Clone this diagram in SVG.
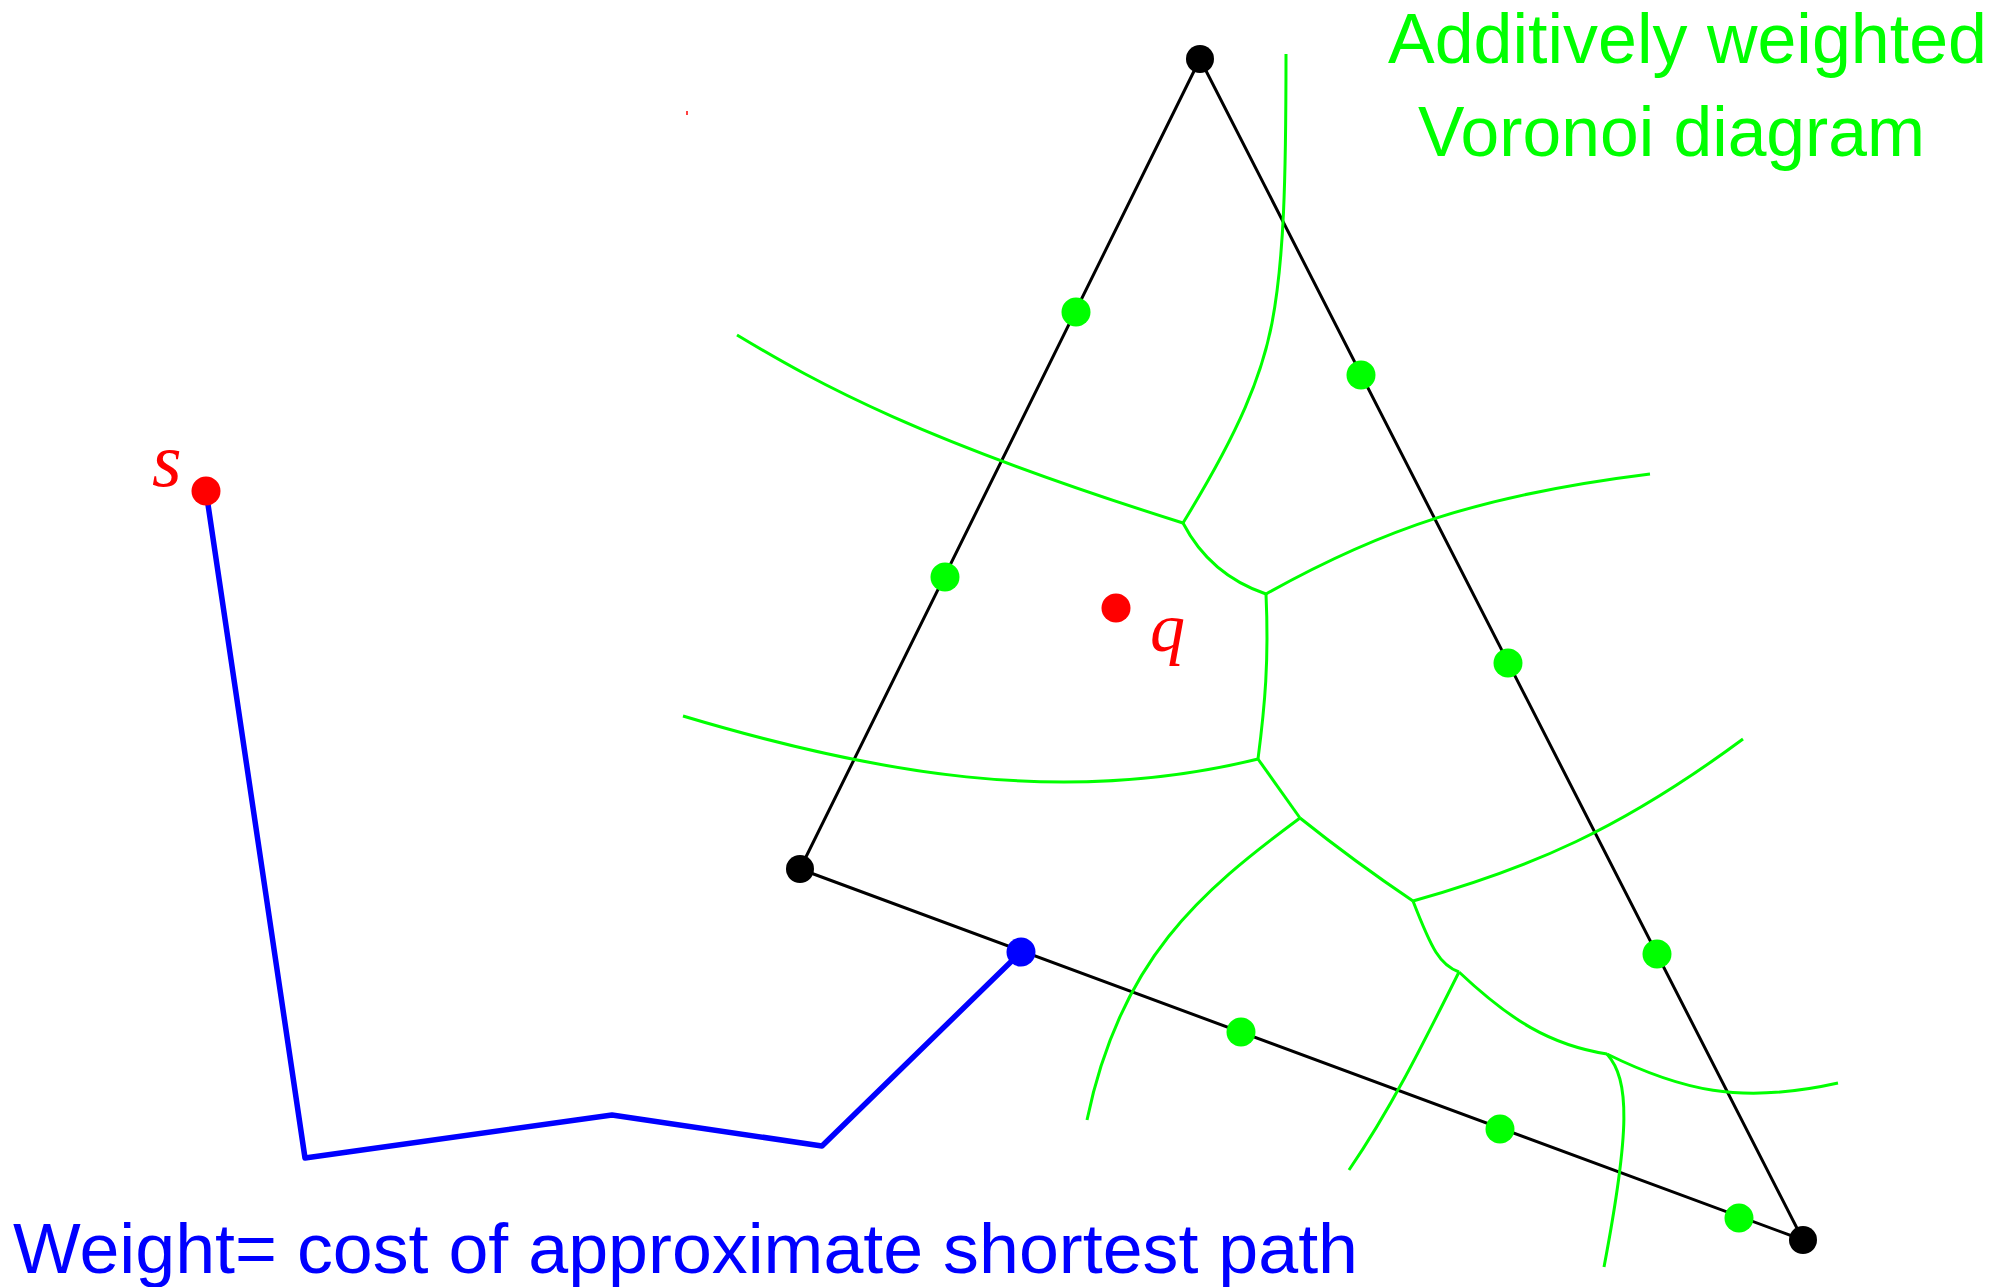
<svg xmlns="http://www.w3.org/2000/svg" width="2015" height="1287" viewBox="0 0 2015 1287">
<style>
.edge{fill:none;stroke:#000;stroke-width:3;stroke-linecap:round}
.vor{fill:none;stroke:#00ff00;stroke-width:3}
.path{fill:none;stroke:#0000ff;stroke-width:5.5;stroke-linejoin:round}
.sans{font-family:"Liberation Sans",Arial,sans-serif;font-size:71px}
.ital{font-family:"Liberation Serif","Times New Roman",serif;font-style:italic;font-size:70px;fill:#ff0000}
</style>
<rect width="2015" height="1287" fill="#fff"/>
<g id="connectors">
  <g id="triangle">
    <line class="edge" x1="1200" y1="59" x2="800" y2="869"/>
    <line class="edge" x1="1200" y1="59" x2="1803" y2="1240"/>
    <line class="edge" x1="800" y1="869" x2="1803" y2="1240"/>
  </g>
  <g id="voronoi">
    <path class="vor" d="M737,335 C820,385 920,440 1183,523"/>
    <path class="vor" d="M1286,54 C1286,180 1284,260 1272,323 C1262,375 1240,430 1183,523"/>
    <path class="vor" d="M1183,523 Q1210,575 1266,594"/>
    <path class="vor" d="M1266,594 C1380,530 1480,495 1650,474"/>
    <path class="vor" d="M1266,594 C1269,660 1265,705 1258,759"/>
    <path class="vor" d="M683,716 C870,772 1060,808 1258,759"/>
    <path class="vor" d="M1258,759 L1300,818"/>
    <path class="vor" d="M1300,818 C1200,892 1120,960 1087,1120"/>
    <path class="vor" d="M1300,818 Q1355,862 1413,901"/>
    <path class="vor" d="M1413,901 C1530,868 1620,830 1743,739"/>
    <path class="vor" d="M1413,901 C1432,950 1440,965 1459,972"/>
    <path class="vor" d="M1459,972 C1420,1050 1390,1110 1349,1170"/>
    <path class="vor" d="M1459,972 C1510,1020 1550,1045 1607,1054"/>
    <path class="vor" d="M1607,1054 C1680,1090 1740,1105 1838,1083"/>
    <path class="vor" d="M1607,1054 C1630,1080 1630,1130 1604,1267"/>
  </g>
  <polyline id="shortest-path" class="path" points="206,491 305,1158 612,1115 822,1146 1021,952"/>
  <line x1="687" y1="111" x2="687" y2="115" stroke="#ff0000" stroke-width="1.5"/>
</g>
<g id="vertex-top"><circle cx="1200" cy="59" r="14" fill="#000"/></g>
<g id="vertex-left"><circle cx="800" cy="869" r="14" fill="#000"/></g>
<g id="vertex-right"><circle cx="1803" cy="1240" r="14" fill="#000"/></g>
<g id="steiner-points" fill="#00ff00">
  <circle cx="1076" cy="312" r="14.5"/>
  <circle cx="945" cy="577" r="14.5"/>
  <circle cx="1361" cy="375" r="14.5"/>
  <circle cx="1508" cy="663" r="14.5"/>
  <circle cx="1657" cy="954" r="14.5"/>
  <circle cx="1241" cy="1032" r="14.5"/>
  <circle cx="1500" cy="1129" r="14.5"/>
  <circle cx="1739" cy="1218" r="14.5"/>
</g>
<g id="blue-point"><circle cx="1021" cy="952" r="14.5" fill="#0000ff"/></g>
<g id="s"><circle cx="206" cy="491" r="14.5" fill="#ff0000"/><text class="ital" x="152" y="486" style="font-size:76px">s</text></g>
<g id="q"><circle cx="1116" cy="608" r="14.5" fill="#ff0000"/><text class="ital" x="1150" y="651">q</text></g>
<g id="title" class="sans" fill="#00ff00">
  <text x="1388" y="63" textLength="599" lengthAdjust="spacingAndGlyphs">Additively weighted</text>
  <text x="1418" y="156" textLength="507" lengthAdjust="spacingAndGlyphs">Voronoi diagram</text>
</g>
<g id="caption"><text class="sans" fill="#0000ff" x="13" y="1273" textLength="1345" lengthAdjust="spacingAndGlyphs">Weight= cost of approximate shortest path</text></g>
</svg>
